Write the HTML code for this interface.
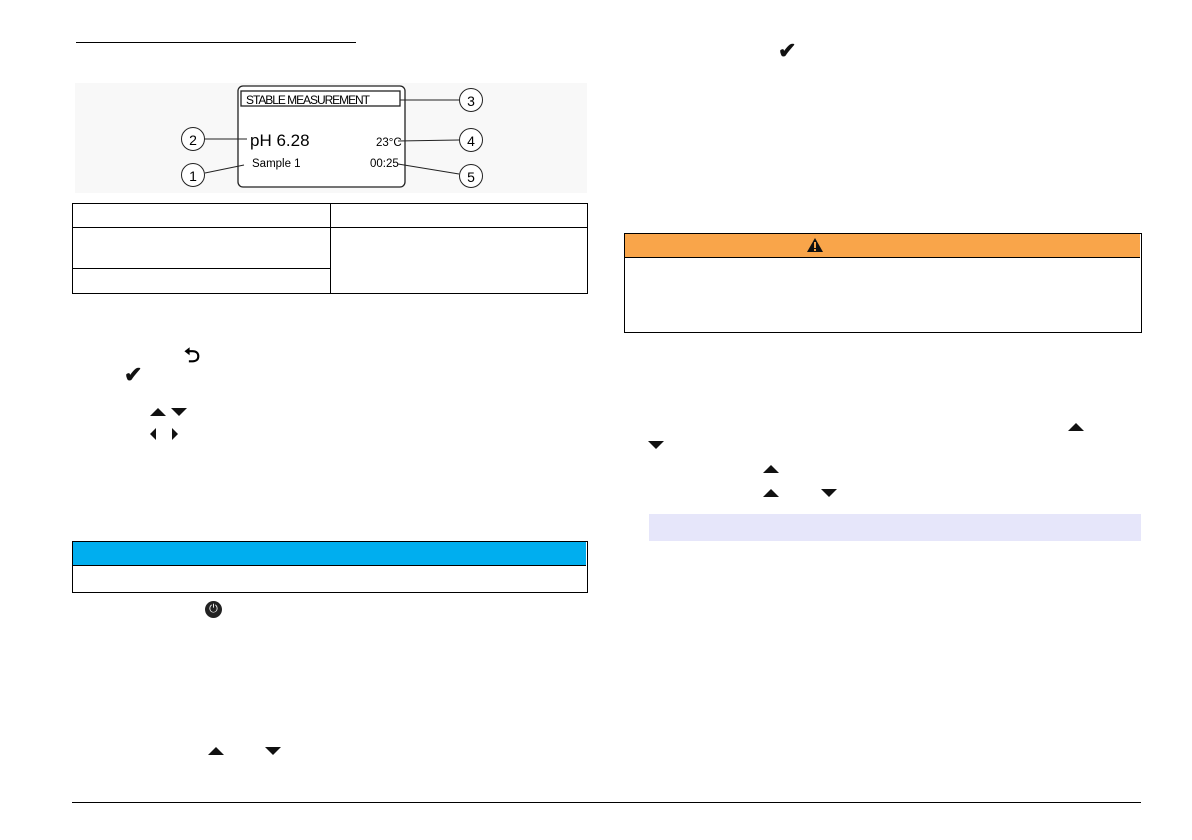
<!DOCTYPE html>
<html><head><meta charset="utf-8"><style>
body{margin:0;width:1192px;height:840px;background:#fff;position:relative;font-family:"Liberation Sans",sans-serif;overflow:hidden}
.a{position:absolute}
.up{width:0;height:0;border-left:8px solid transparent;border-right:8px solid transparent;border-bottom:8px solid #111;position:absolute}
.dn{width:0;height:0;border-left:8px solid transparent;border-right:8px solid transparent;border-top:8px solid #111;position:absolute}
.c{position:absolute;width:24px;height:24px;border:1.3px solid #222;border-radius:50%;background:#fff;font-size:14px;text-align:center;line-height:24px;box-sizing:border-box}
.chk{position:absolute;font-size:22px;font-weight:bold;line-height:1;color:#111}
</style></head><body>
<div class="a" style="left:76px;top:42px;width:280px;height:1px;background:#000"></div>
<div class="a" style="left:75px;top:83px;width:512px;height:110px;background:#f8f8f8"></div>
<svg class="a" style="left:0;top:0" width="600" height="200">
<rect x="238" y="86" width="167" height="101" rx="5" fill="#fff" stroke="#222" stroke-width="1.3"/>
<rect x="241" y="91" width="159" height="15" fill="none" stroke="#222" stroke-width="1.3"/>
<line x1="400" y1="100" x2="459" y2="100" stroke="#222"/>
<line x1="205" y1="139" x2="247" y2="139" stroke="#222"/>
<line x1="398" y1="141" x2="459" y2="140" stroke="#222"/>
<line x1="205" y1="173" x2="244" y2="165" stroke="#222"/>
<line x1="398" y1="164" x2="459" y2="174" stroke="#222"/>
<text x="246" y="104" font-size="12" font-family="Liberation Sans Narrow, Liberation Sans" textLength="124">STABLE MEASUREMENT</text>
<text x="250" y="146" font-size="17" font-family="Liberation Sans">pH 6.28</text>
<text x="252" y="167" font-size="11.5" font-family="Liberation Sans">Sample 1</text>
<text x="376" y="146" font-size="11.5" font-family="Liberation Sans">23°C</text>
<text x="370" y="167" font-size="11.5" font-family="Liberation Sans">00:25</text>
</svg>
<div class="c" style="left:459px;top:88px">3</div>
<div class="c" style="left:181px;top:127px">2</div>
<div class="c" style="left:459px;top:128px">4</div>
<div class="c" style="left:181px;top:163px">1</div>
<div class="c" style="left:459px;top:164px">5</div>
<!-- table -->
<div class="a" style="left:72px;top:203px;width:514px;height:89px;border:1px solid #000"></div>
<div class="a" style="left:330px;top:203px;width:1px;height:90px;background:#000"></div>
<div class="a" style="left:72px;top:227px;width:515px;height:1px;background:#000"></div>
<div class="a" style="left:72px;top:268px;width:258px;height:1px;background:#000"></div>
<!-- icons left -->
<div class="a" style="left:184px;top:346px;font-size:20px;font-weight:bold;line-height:1">⮌</div>
<div class="chk" style="left:124px;top:364px">✔</div>
<div class="up" style="left:150px;top:408px"></div>
<div class="dn" style="left:171px;top:408px"></div>
<div class="a" style="left:150px;top:428px;border-top:6px solid transparent;border-bottom:6px solid transparent;border-right:6px solid #111"></div>
<div class="a" style="left:172px;top:428px;border-top:6px solid transparent;border-bottom:6px solid transparent;border-left:6px solid #111"></div>
<div class="a" style="left:72px;top:541px;width:514px;height:50px;border:1px solid #000"></div>
<div class="a" style="left:73px;top:542px;width:513px;height:23px;background:#00aeef;border-bottom:1px solid #000"></div>
<div class="a" style="left:205px;top:601px;width:17px;height:17px;border-radius:50%;background:#222;color:#fff;font-size:11px;text-align:center;line-height:17px">⏻</div>
<div class="up" style="left:208px;top:747px"></div>
<div class="dn" style="left:265px;top:747px"></div>
<!-- right -->
<div class="chk" style="left:778px;top:40px">✔</div>
<div class="a" style="left:624px;top:233px;width:516px;height:98px;border:1px solid #000"></div>
<div class="a" style="left:625px;top:234px;width:515px;height:23px;background:#f9a54a;border-bottom:1px solid #000"></div>
<svg class="a" style="left:806px;top:237px" width="18" height="16"><polygon points="9,1 17,15 1,15" fill="#111"/><rect x="8" y="5" width="2" height="6" fill="#f9a54a"/><rect x="8" y="12" width="2" height="2" fill="#f9a54a"/></svg>
<div class="up" style="left:1068px;top:423px"></div>
<div class="dn" style="left:648px;top:441px"></div>
<div class="up" style="left:763px;top:465px"></div>
<div class="up" style="left:763px;top:489px"></div>
<div class="dn" style="left:821px;top:489px"></div>
<div class="a" style="left:649px;top:514px;width:492px;height:27px;background:#e6e6fa"></div>
<div class="a" style="left:72px;top:802px;width:1069px;height:1px;background:#000"></div>
</body></html>
